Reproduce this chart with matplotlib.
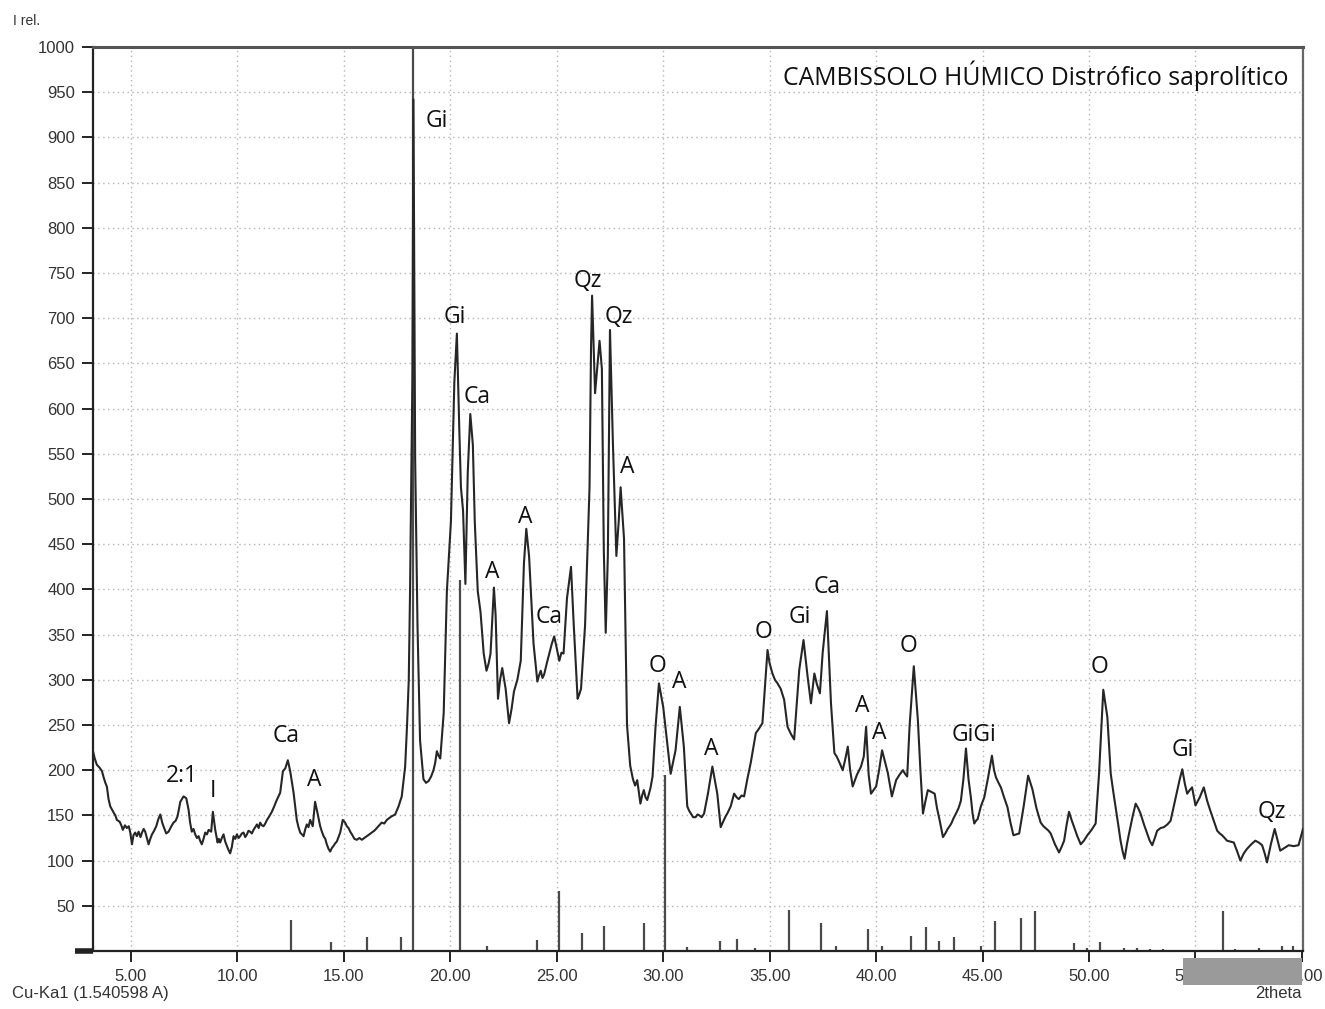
import numpy as np
import matplotlib.pyplot as plt
from matplotlib.patches import Rectangle

# difratograma (2theta, intensidade relativa)
two_theta = [
    3.22, 3.30, 3.40, 3.52, 3.64, 3.72, 3.80, 3.87, 3.95, 4.03, 4.19, 4.27, 4.34, 4.47,
    4.55, 4.62, 4.72, 4.81, 4.90, 4.97, 5.05, 5.12, 5.20, 5.28, 5.36, 5.45, 5.52, 5.60,
    5.67, 5.75, 5.83, 5.91, 5.99, 6.09, 6.19, 6.29, 6.38, 6.47, 6.56, 6.66, 6.77,
    6.90, 7.00, 7.10, 7.19, 7.32, 7.47, 7.60, 7.71, 7.78, 7.86, 7.94, 8.02, 8.10, 8.18,
    8.25, 8.33, 8.41, 8.49, 8.57, 8.65, 8.77, 8.85, 8.96, 9.07, 9.13, 9.19, 9.27, 9.35,
    9.43, 9.51, 9.58, 9.66, 9.74, 9.82, 9.90, 9.98, 10.06, 10.13, 10.21, 10.29, 10.37,
    10.45, 10.52, 10.60, 10.68, 10.76, 10.84, 10.92, 11.00, 11.07, 11.15, 11.23, 11.31,
    11.39, 11.50, 11.62, 11.73, 11.85, 12.01, 12.14, 12.25, 12.37, 12.48, 12.64, 12.79,
    12.87, 12.95, 13.03, 13.11, 13.18, 13.26, 13.34, 13.42, 13.54, 13.65, 13.76, 13.89,
    13.97, 14.05, 14.13, 14.20, 14.28, 14.36, 14.44, 14.51, 14.59, 14.67, 14.75, 14.83,
    14.95, 15.06, 15.14, 15.22, 15.30, 15.38, 15.50, 15.61, 15.73, 15.85, 15.96, 16.08,
    16.20, 16.31, 16.43, 16.55, 16.66, 16.78, 16.90, 17.02, 17.13, 17.25, 17.41, 17.57,
    17.72, 17.88, 17.97, 18.05, 18.11, 18.22, 18.27, 18.35, 18.46, 18.58, 18.74, 18.86,
    18.98, 19.10, 19.21, 19.29, 19.37, 19.45, 19.53, 19.69, 19.84, 20.03, 20.19, 20.31,
    20.43, 20.50, 20.60, 20.71, 20.82, 20.94, 21.06, 21.15, 21.29, 21.42, 21.57, 21.70,
    21.80, 21.89, 22.05, 22.13, 22.24, 22.34, 22.44, 22.60, 22.76, 22.88, 22.99, 23.15,
    23.31, 23.46, 23.57, 23.70, 23.91, 24.09, 24.17, 24.25, 24.33, 24.41, 24.53, 24.65,
    24.77, 24.88, 25.00, 25.12, 25.22, 25.32, 25.48, 25.67, 25.80, 25.98, 26.06, 26.14,
    26.33, 26.54, 26.61, 26.66, 26.80, 27.01, 27.12, 27.21, 27.30, 27.40, 27.50, 27.64,
    27.80, 27.91, 28.00, 28.16, 28.30, 28.45, 28.58, 28.68, 28.78, 28.93, 29.01, 29.09,
    29.17, 29.25, 29.40, 29.50, 29.64, 29.80, 30.00, 30.19, 30.35, 30.58, 30.78, 30.97,
    31.13, 31.22, 31.30, 31.41, 31.52, 31.61, 31.70, 31.81, 31.92, 32.10, 32.31, 32.54,
    32.70, 32.85, 32.93, 33.01, 33.17, 33.33, 33.45, 33.55, 33.68, 33.80, 33.95, 34.11,
    34.35, 34.50, 34.66, 34.90, 35.00, 35.13, 35.25, 35.37, 35.52, 35.68, 35.84, 36.00,
    36.15, 36.39, 36.59, 36.78, 36.94, 37.10, 37.22, 37.36, 37.49, 37.69, 37.88, 38.04,
    38.15, 38.25, 38.34, 38.43, 38.55, 38.67, 38.78, 38.90, 39.10, 39.29, 39.42, 39.53,
    39.65, 39.76, 39.88, 40.00, 40.14, 40.28, 40.41, 40.55, 40.65, 40.74, 40.84, 40.94,
    41.10, 41.26, 41.36, 41.46, 41.57, 41.77, 41.96, 42.08, 42.20, 42.31, 42.43, 42.59,
    42.75, 42.86, 42.98, 43.14, 43.25, 43.36, 43.45, 43.53, 43.64, 43.75, 43.87, 43.98,
    44.10, 44.22, 44.34, 44.45, 44.53, 44.61, 44.69, 44.77, 44.92, 45.08, 45.26, 45.44,
    45.54, 45.63, 45.75, 45.86, 46.01, 46.17, 46.31, 46.45, 46.58, 46.72, 46.93, 47.14,
    47.34, 47.53, 47.73, 47.86, 48.00, 48.10, 48.20, 48.40, 48.59, 48.71, 48.83, 48.95,
    49.06, 49.18, 49.30, 49.45, 49.61, 49.76, 49.92, 50.12, 50.31, 50.47, 50.67, 50.86,
    51.02, 51.14, 51.25, 51.37, 51.48, 51.58, 51.67, 51.78, 51.88, 52.04, 52.19, 52.31,
    52.42, 52.58, 52.73, 52.85, 52.97, 53.09, 53.20, 53.36, 53.52, 53.68, 53.83, 53.98,
    54.14, 54.26, 54.38, 54.50, 54.61, 54.73, 54.84, 55.00, 55.20, 55.39, 55.55, 55.70,
    55.86, 56.02, 56.14, 56.25, 56.37, 56.48, 56.64, 56.80, 56.96, 57.11, 57.27, 57.42,
    57.62, 57.81, 57.97, 58.13, 58.25, 58.36, 58.54, 58.72, 58.85, 58.98, 59.18, 59.38,
    59.61, 59.84, 60.05]
intensity = [
    221, 213, 206, 203, 199, 192, 186, 182, 168, 160, 153, 150, 145, 143,
    139, 134, 139, 136, 138, 131, 118, 128, 131, 127, 132, 126, 131, 135,
    132, 125, 118, 124, 129, 133, 138, 146, 151, 142, 136, 130, 132,
    138, 142, 144, 149, 165, 171, 169, 156, 142, 132, 135, 129, 125, 127,
    122, 118, 124, 131, 129, 134, 132, 154, 134, 120, 124, 120, 125, 129,
    121, 116, 112, 108, 115, 127, 124, 129, 125, 127, 130, 131, 126,
    129, 133, 132, 130, 134, 137, 140, 136, 142, 139, 138, 141,
    145, 149, 154, 160, 167, 175, 199, 202, 211, 199, 175, 145,
    137, 131, 129, 127, 134, 140, 137, 145, 138, 165, 153, 138,
    132, 127, 124, 118, 113, 110, 114, 116, 119, 121, 126, 131,
    145, 142, 138, 136, 132, 129, 124, 123, 125, 123, 125, 127,
    129, 131, 133, 136, 139, 142, 141, 145, 147, 149, 151, 160,
    171, 204, 250, 300, 398, 633, 942, 544, 360, 233, 190, 186,
    188, 193, 200, 208, 221, 216, 213, 263, 398, 475, 629, 683,
    571, 513, 487, 406, 529, 594, 560, 475, 398, 375, 329, 310,
    318, 329, 402, 371, 279, 300, 313, 290, 252, 268, 287, 300,
    321, 429, 467, 437, 340, 298, 305, 310, 302, 306, 318, 329,
    340, 348, 335, 321, 330, 329, 390, 425, 360, 279, 284, 290,
    360, 513, 667, 725, 617, 675, 644, 444, 352, 437, 687, 560,
    437, 475, 513, 456, 250, 205, 190, 183, 189, 163, 172, 178,
    170, 167, 180, 193, 248, 296, 270, 230, 196, 222, 270, 226,
    160, 155, 152, 148, 148, 151, 150, 148, 152, 174, 204, 174,
    137, 145, 149, 152, 160, 174, 170, 168, 172, 171, 190, 208,
    241, 246, 252, 333, 318, 307, 300, 296, 290, 278, 248, 240,
    234, 311, 344, 304, 274, 307, 295, 285, 330, 376, 274, 219,
    215, 210, 205, 200, 212, 226, 200, 182, 195, 204, 215, 248,
    195, 174, 178, 182, 200, 222, 210, 197, 183, 171, 180, 189,
    195, 200, 196, 193, 248, 315, 256, 200, 152, 165, 178, 176,
    174, 158, 145, 126, 130, 135, 138, 141, 147, 152, 158, 166,
    190, 224, 190, 170, 152, 141, 144, 146, 160, 170, 192, 216,
    200, 192, 186, 181, 170, 159, 142, 128, 129, 130, 160, 194,
    179, 158, 142, 138, 135, 133, 130, 118, 109, 115, 122, 140,
    154, 145, 137, 127, 118, 122, 128, 134, 141, 196, 289, 259,
    196, 176, 159, 140, 122, 110, 102, 118, 130, 148, 163, 158,
    152, 140, 130, 122, 117, 125, 133, 136, 137, 140, 144, 160,
    177, 190, 201, 185, 174, 178, 181, 161, 170, 181, 166, 155,
    144, 133, 130, 128, 125, 122, 121, 120, 110, 100, 108, 113,
    118, 122, 120, 117, 108, 98, 118, 135, 123, 111, 114, 117,
    116, 117, 135]

# linhas do padrao de referencia
stick_pos = [12.50, 14.42, 16.11, 17.70, 18.27, 20.47, 21.74, 24.08, 25.09, 26.19,
             27.22, 29.10, 30.08, 31.11, 32.66, 33.46, 34.30, 35.89, 37.40, 38.10,
             39.60, 40.30, 41.66, 42.36, 42.97, 43.68, 44.94, 45.60, 46.82, 47.48,
             49.30, 49.91, 50.52, 51.65, 52.26, 52.87, 53.48, 56.29, 56.85, 57.98,
             59.06, 59.57]
stick_height = [34, 10, 16, 16, 1000, 410, 5, 12, 66, 20,
                28, 31, 195, 4, 11, 13, 3, 45, 31, 6,
                24, 5, 17, 27, 11, 16, 6, 33, 37, 44,
                9, 3, 10, 3, 3, 2, 2, 44, 2, 3,
                5, 5]

# identificacao dos minerais
label_text = ['2:1', 'I', 'Ca', 'A', 'Gi', 'Gi', 'Ca', 'A', 'A', 'Ca', 'Qz', 'Qz', 'A',
              'O', 'A', 'A', 'O', 'Gi', 'Ca', 'A', 'A', 'O', 'GiGi', 'O', 'Gi', 'Qz']
label_x = [7.39, 8.84, 12.27, 13.63, 19.35, 20.19, 21.27, 21.97, 23.52, 24.64, 26.47,
           27.93, 28.30, 29.71, 30.74, 32.24, 34.72, 36.41, 37.68, 39.36, 40.16,
           41.52, 44.62, 50.48, 54.41, 58.59]
label_y = [194, 177, 238, 189, 918, 701, 613, 419, 480, 369, 741, 701, 535, 315,
           298, 223, 353, 369, 403, 271, 241, 337, 239, 314, 222, 154]

fig = plt.figure(figsize=(13.25, 10.09), dpi=100)
ax = fig.add_axes([0.0702, 0.0575, 0.9132, 0.8959])

ax.vlines(stick_pos, 0, stick_height, color='#4a4a4a', lw=1.6, zorder=2)
ax.plot(two_theta, intensity, color='#262626', lw=1.5, zorder=3)

for t, x, y in zip(label_text, label_x, label_y):
    ax.text(x, y, t, ha='center', va='center', fontsize=16.5,
            family='Open Sans', color='#111111', zorder=4)

ax.text(0.988, 0.985, 'CAMBISSOLO HÚMICO Distrófico saprolítico',
        transform=ax.transAxes, ha='right', va='top', fontsize=17.8,
        family='Open Sans', color='#111111')

ax.set_xlim(3.22, 60.05)
ax.set_ylim(0, 1000)
ax.set_xticks(np.arange(5, 61, 5))
ax.set_xticklabels(['%.2f' % v for v in np.arange(5, 61, 5)])
yt = np.arange(0, 1001, 50)
ax.set_yticks(yt)
ax.set_yticklabels([''] + [str(v) for v in yt[1:]])
ax.tick_params(direction='out', length=8, width=1.4, colors='#222222',
               labelsize=12, pad=5)
for lab in ax.get_xticklabels() + ax.get_yticklabels():
    lab.set_family('Liberation Sans')
    lab.set_color('#333333')

# marca espessa no zero
t0 = ax.yaxis.get_major_ticks()[0]
t0.tick1line.set_markersize(13)
t0.tick1line.set_markeredgewidth(4)

ax.grid(True, ls=(0, (1, 2.5)), color='#b5b5b5', lw=1.0)
ax.set_axisbelow(True)

ax.spines['left'].set_color('#222222')
ax.spines['left'].set_linewidth(1.6)
ax.spines['bottom'].set_color('#222222')
ax.spines['bottom'].set_linewidth(1.6)
ax.spines['top'].set_color('#555555')
ax.spines['top'].set_linewidth(2.2)
ax.spines['right'].set_color('#666666')
ax.spines['right'].set_linewidth(1.6)

fig.text(0.010, 0.975, 'I rel.', fontsize=10, family='Liberation Sans', color='#333333')
fig.text(0.009, 0.011, 'Cu-Ka1 (1.540598 A)', fontsize=12, family='Liberation Sans',
         color='#333333')
fig.text(0.947, 0.011, '2theta', fontsize=12, family='Liberation Sans', color='#333333')

# barra de rolagem
fig.patches.append(Rectangle((0.893, 0.0238), 0.090, 0.0268, transform=fig.transFigure,
                             facecolor='#9a9a9a', edgecolor='none', zorder=10))

fig.savefig('out.png', dpi=100)
